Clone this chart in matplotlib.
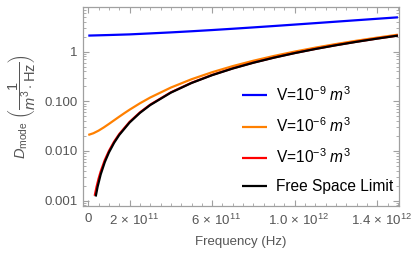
import numpy as np
import matplotlib
matplotlib.use('Agg')
import matplotlib.pyplot as plt
import matplotlib.transforms as mtransforms
from matplotlib.ticker import FixedLocator, FixedFormatter, LogLocator, NullFormatter, MultipleLocator

plt.rcParams['font.family'] = ['Liberation Sans', 'DejaVu Sans']
plt.rcParams['mathtext.fontset'] = 'custom'
plt.rcParams['mathtext.rm'] = 'Liberation Sans'
plt.rcParams['mathtext.it'] = 'Liberation Sans:italic'
plt.rcParams['mathtext.bf'] = 'Liberation Sans:bold'

# ---- data (frequency in Hz, density of modes in 1/(m^3 Hz)) ----
freq_v9 = np.array([0, 1, 2, 3, 4, 5, 6, 7, 8, 9, 10, 11, 12, 13, 14, 15]) * 1e11
dmode_v9 = [2.100, 2.156, 2.221, 2.324, 2.436, 2.567, 2.716, 2.884, 3.071, 3.276,
            3.500, 3.742, 4.004, 4.284, 4.582, 4.899]

freq_v6 = np.array([0, 0.25, 0.5, 0.75, 1, 1.25, 1.5, 1.75, 2, 2.5, 3, 4, 5, 6, 7,
                    8, 9, 10, 11, 12, 13, 14, 15]) * 1e11
dmode_v6 = [0.02100, 0.02275, 0.02567, 0.02975, 0.03500, 0.04142, 0.04899, 0.05774,
            0.06765, 0.09098, 0.1190, 0.1889, 0.2776, 0.3848, 0.5108, 0.6554,
            0.8186, 1.0005, 1.2011, 1.4202, 1.6581, 1.9147, 2.1899]

freq_v3 = np.array([0.31, 0.4, 0.5, 0.6, 0.8, 1, 1.25, 1.5, 2, 2.5, 3, 4, 5, 6, 7,
                    8, 9, 10, 11, 12, 13, 14, 15]) * 1e11
dmode_v3 = [0.001251, 0.001889, 0.002776, 0.003848, 0.006554, 0.010005, 0.01537,
            0.02190, 0.03845, 0.05968, 0.08556, 0.1513, 0.2358, 0.3388, 0.4606,
            0.6010, 0.7600, 0.9377, 1.1341, 1.3490, 1.5827, 1.8350, 2.1060]

freq_free = np.array([0.36, 0.45, 0.6, 0.8, 1, 1.25, 1.5, 2, 2.5, 3, 4, 5, 6, 7,
                      8, 9, 10, 11, 12, 13, 14, 15]) * 1e11
dmode_free = [0.001209, 0.001889, 0.003358, 0.005970, 0.009328, 0.01458, 0.02099,
              0.03731, 0.05830, 0.08395, 0.1493, 0.2332, 0.3358, 0.4571, 0.5970,
              0.7556, 0.9328, 1.1287, 1.3432, 1.5764, 1.8283, 2.0988]

labels = [r'V=10$^{-9}$ $m^3$', r'V=10$^{-6}$ $m^3$', r'V=10$^{-3}$ $m^3$', 'Free Space Limit']
colors = ['#0000ff', '#ff8000', '#ff0000', '#000000']

xtick_vals = [0, 2e11, 6e11, 1.0e12, 1.4e12]
xtick_labels = ['0', r'$2\,\times\,10^{11}$', r'$6\,\times\,10^{11}$',
                r'$1.0\,\times\,10^{12}$', r'$1.4\,\times\,10^{12}$']
ytick_vals = [0.001, 0.01, 0.1, 1]
ytick_labels = ['0.001', '0.010', '0.100', '1']

GRAY = '#a0a0a0'
TXT = '#555555'

fig = plt.figure(figsize=(4.15, 2.54), dpi=100)
ax = fig.add_axes([0.1993, 0.189, 0.7621, 0.7834])

series = [(freq_v9, dmode_v9), (freq_v6, dmode_v6), (freq_v3, dmode_v3), (freq_free, dmode_free)]
for (fx, fy), c, lab in zip(series, colors, labels):
    ax.plot(fx, fy, color=c, lw=1.6, label=lab, solid_capstyle='butt')

ax.set_yscale('log')
ax.set_xlim(-2.7e10, 1.505e12)
ax.set_ylim(0.00078, 7.9)

ax.xaxis.set_major_locator(FixedLocator(xtick_vals))
ax.xaxis.set_major_formatter(FixedFormatter(xtick_labels))
ax.xaxis.set_minor_locator(MultipleLocator(5e10))
ax.yaxis.set_major_locator(FixedLocator(ytick_vals))
ax.yaxis.set_major_formatter(FixedFormatter(ytick_labels))
ax.yaxis.set_minor_locator(LogLocator(base=10, subs=np.arange(2, 10)))
ax.yaxis.set_minor_formatter(NullFormatter())

for s in ax.spines.values():
    s.set_color(GRAY)
    s.set_linewidth(0.9)
ax.tick_params(which='both', direction='in', top=True, right=True, color=GRAY,
               labelcolor=TXT, labelsize=9.5)
ax.tick_params(which='major', length=4, width=0.8)
ax.tick_params(which='minor', length=2, width=0.6)
ax.tick_params(axis='x', pad=5)

# Mathematica centres the mantissa on the tick, so nudge the wide labels right
shift = mtransforms.ScaledTranslation(4 / 100, 0, fig.dpi_scale_trans)
for lbl in ax.get_xticklabels()[1:]:
    lbl.set_transform(lbl.get_transform() + shift)

ax.set_ylabel(r'$D_{\mathrm{mode}}\ \left(\dfrac{1}{m^3\cdot\mathrm{Hz}}\right)$',
              color=TXT, fontsize=10.5)
ax.yaxis.set_label_coords(-0.14, 0.5)
ax.set_xlabel('Frequency (Hz)', color=TXT, fontsize=9.5, labelpad=6)

leg = ax.legend(loc='upper left', bbox_to_anchor=(0.483, 0.64), frameon=False,
                fontsize=11.2, handlelength=1.65, handletextpad=0.55,
                labelspacing=0.82, borderaxespad=0)

fig.savefig('out.png', dpi=100)
